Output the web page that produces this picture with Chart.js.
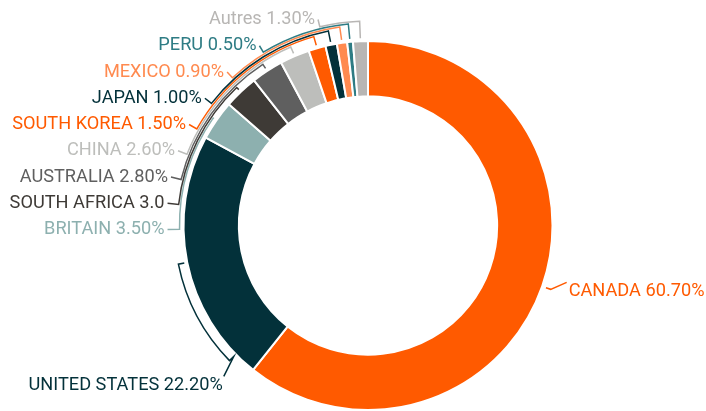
<!DOCTYPE html>
<html>
<head>
<meta charset="utf-8">
<script src="https://cdn.jsdelivr.net/npm/chart.js@4"></script>
<style>
  html, body { margin: 0; padding: 0; background: #fff; }
  #wrap { width: 706px; height: 411px; position: relative; }
</style>
</head>
<body>
<div id="wrap"><canvas id="donut"></canvas></div>
<script>
// données
const categories = ['CANADA', 'UNITED STATES', 'BRITAIN', 'SOUTH AFRICA', 'AUSTRALIA', 'CHINA',
  'SOUTH KOREA', 'JAPAN', 'MEXICO', 'PERU', 'Autres'];
const shares = [60.7, 22.2, 3.5, 3.0, 2.8, 2.6, 1.5, 1.0, 0.9, 0.5, 1.3];
const shareLabels = ['60.70%', '22.20%', '3.50%', '3.0', '2.80%', '2.60%', '1.50%', '1.00%', '0.90%', '0.50%', '1.30%'];
const colors = ['#FF5A00', '#03313A', '#8DB0AF', '#3E3A36', '#5F5F5F', '#BDBEBB',
  '#FF5A00', '#03313A', '#FF8A4F', '#2E7C84', '#B8B6B4'];

const FONT = '400 18.2px Roboto, "Open Sans", sans-serif';
const TXT_DY = 3; // le texte "middle" de Roboto remonte un peu

// étiquettes + crochets
const leaderPlugin = {
  id: 'leaders',
  afterDatasetsDraw(chart) {
    const ctx = chart.ctx;
    const arcs = chart.getDatasetMeta(0).data;
    const cx = arcs[0].x, cy = arcs[0].y, R = arcs[0].outerRadius;
    const pt = (a, r) => [cx + r * Math.cos(a), cy + r * Math.sin(a)];
    const norm = a => (a < -Math.PI / 2 ? a + 2 * Math.PI : a);

    ctx.save();
    ctx.font = FONT;
    ctx.lineWidth = 1.5;
    ctx.textBaseline = 'middle';

    // Canada
    const ca = arcs[0];
    const mCa = (ca.startAngle + ca.endAngle) / 2;
    let p = pt(mCa, R + 4), q = pt(mCa, R + 9);
    ctx.strokeStyle = colors[0];
    ctx.beginPath();
    ctx.moveTo(p[0], p[1]);
    ctx.lineTo(q[0], q[1]);
    ctx.lineTo(q[0] + 16, q[1] - 7);
    ctx.stroke();
    ctx.fillStyle = colors[0];
    ctx.textAlign = 'left';
    ctx.fillText(categories[0] + ' ' + shareLabels[0], q[0] + 18, q[1] - 1 + TXT_DY);

    // Etats-Unis : crochet partiel
    const us = arcs[1];
    const span = us.endAngle - us.startAngle;
    const a0 = us.startAngle + span * 0.09, a1 = us.startAngle + span * 0.5;
    const s0 = pt(a0, R + 3), s1 = pt(a1, R + 3);
    ctx.strokeStyle = colors[1];
    ctx.beginPath();
    ctx.moveTo(s1[0], s1[1]);
    ctx.arc(cx, cy, R + 9, a1, a0, true);
    ctx.lineTo(s0[0], s0[1]);
    ctx.lineTo(s0[0] - 10, s0[1] + 20);
    ctx.stroke();
    ctx.fillStyle = colors[1];
    ctx.textAlign = 'right';
    ctx.fillText(categories[1] + ' ' + shareLabels[1], s0[0] - 11, s0[1] + 26 + TXT_DY);

    // petits pays, empilés à gauche
    const step = 26.25;
    for (let i = 2; i < arcs.length; i++) {
      const k = i - 2;
      const el = arcs[i];
      const mid = (el.startAngle + el.endAngle) / 2;
      const ty = cy + 1 + TXT_DY - k * step;
      const rl = R + 19 + k * 1.15;
      const tx = cx - Math.sqrt(rl * rl - (cy - ty) * (cy - ty));
      const rk = R + 4 + k * 2;
      const la = norm(Math.atan2(ty - cy, tx + 3 - cx));
      const l1 = pt(la, rk), t0 = pt(mid, R + 3);

      ctx.strokeStyle = colors[i];
      ctx.beginPath();
      ctx.moveTo(tx + 3, ty);
      ctx.lineTo(l1[0], l1[1]);
      ctx.arc(cx, cy, rk, la, mid, false);
      ctx.lineTo(t0[0], t0[1]);
      ctx.stroke();

      ctx.fillStyle = colors[i];
      ctx.textAlign = 'right';
      ctx.fillText(categories[i] + ' ' + shareLabels[i], tx, ty);
    }
    ctx.restore();
  }
};

new Chart(document.getElementById('donut'), {
  type: 'doughnut',
  data: {
    labels: categories,
    datasets: [{
      data: shares,
      backgroundColor: colors,
      borderColor: '#fff',
      borderWidth: 2
    }]
  },
  options: {
    responsive: true,
    maintainAspectRatio: false,
    animation: false,
    cutout: '70%',
    layout: { padding: { top: 40, bottom: -5, left: 180, right: 150 } },
    plugins: {
      legend: { display: false },
      tooltip: { enabled: false }
    }
  },
  plugins: [leaderPlugin]
});
</script>
</body>
</html>
